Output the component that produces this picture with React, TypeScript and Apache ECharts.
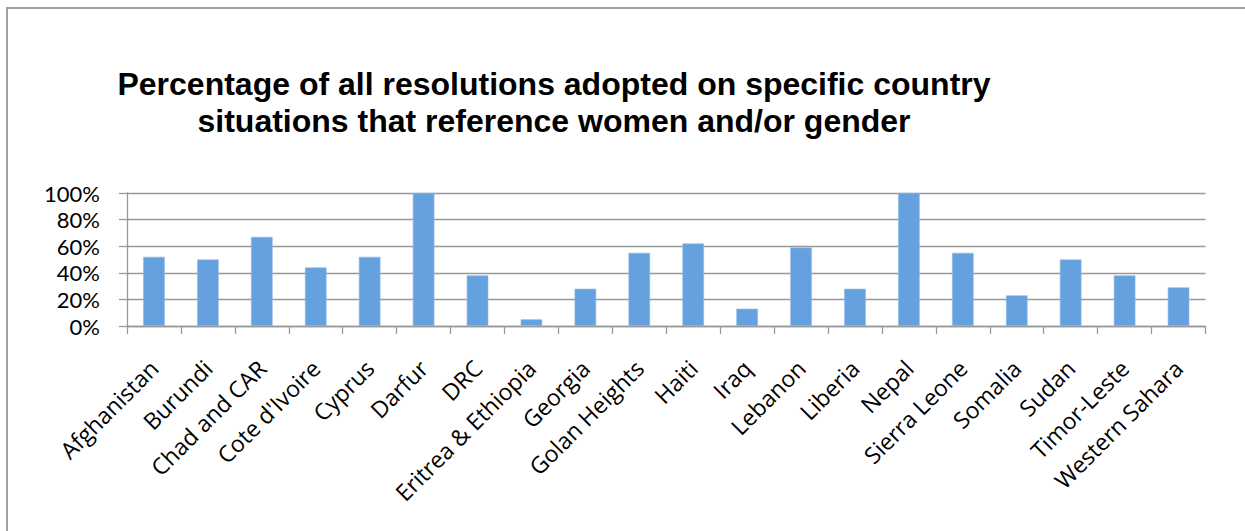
import React, { useEffect, useRef } from "react";
import * as echarts from "echarts";

const categories = [
  "Afghanistan", "Burundi", "Chad and CAR", "Cote d'Ivoire", "Cyprus", "Darfur", "DRC",
  "Eritrea & Ethiopia", "Georgia", "Golan Heights", "Haiti", "Iraq", "Lebanon", "Liberia",
  "Nepal", "Sierra Leone", "Somalia", "Sudan", "Timor-Leste", "Western Sahara",
];
const percentValues = [52, 50, 67, 44, 52, 100, 38, 5, 28, 55, 62, 13, 59, 28, 100, 55, 23, 50, 38, 29];
const yTicks = [0, 20, 40, 60, 80, 100];
const titleLines = [
  "Percentage of all resolutions adopted on specific country",
  "situations that reference women and/or gender",
];

export default function App() {
  const ref = useRef<HTMLDivElement>(null);
  useEffect(() => {
    if (!ref.current) return;
    const chart = echarts.init(ref.current, null, { renderer: "svg" });
    chart.setOption({
      animation: false,
      backgroundColor: "#ffffff",
      title: {
        text: titleLines.join("\n"),
        left: 554,
        top: 65,
        textAlign: "center",
        padding: 0,
        textStyle: {
          fontFamily: "Liberation Sans",
          fontWeight: "bold",
          fontSize: 32,
          lineHeight: 37,
          color: "#000000",
        },
      },
      graphic: [
        {
          type: "rect",
          shape: { x: 7, y: 8, width: 1400, height: 700 },
          style: { fill: "none", stroke: "#a0a0a0", lineWidth: 2 },
          silent: true,
        },
      ],
      grid: { left: 127, right: 39.5, top: 193, bottom: 205, containLabel: false },
      xAxis: {
        type: "category",
        data: categories,
        boundaryGap: true,
        axisLine: { show: true, lineStyle: { color: "#999999", width: 1.3 } },
        axisTick: { show: true, interval: 0, length: 8, alignWithLabel: false, lineStyle: { color: "#999999", width: 1.3 } },
        axisLabel: {
          interval: 0,
          rotate: 45,
          align: "right",
          verticalAlign: "middle",
          margin: 38,
          fontFamily: "Open Sans",
          fontSize: 23,
          lineHeight: 24,
          color: "#000000",
        },
        splitLine: { show: false },
      },
      yAxis: {
        type: "value",
        min: yTicks[0],
        max: yTicks[yTicks.length - 1],
        interval: 20,
        axisLine: { show: true, lineStyle: { color: "#999999", width: 1.3 } },
        axisTick: { show: true, length: 8, lineStyle: { color: "#999999", width: 1.3 } },
        axisLabel: {
          margin: 27,
          formatter: (v: number) => `${v}%`,
          fontFamily: "Lato",
          fontSize: 22,
          lineHeight: 22,
          color: "#000000",
        },
        splitLine: { show: true, lineStyle: { color: "#999999", width: 1.3 } },
      },
      series: [
        {
          type: "bar",
          data: percentValues,
          barWidth: "40%",
          itemStyle: { color: "#65a1de", borderColor: "#8fbbe9", borderWidth: 0.6 },
        },
      ],
    });
    return () => chart.dispose();
  }, []);
  return (
    <div
      ref={ref}
      style={{ position: "absolute", left: 0, top: 0, width: 1245, height: 531 }}
    />
  );
}
